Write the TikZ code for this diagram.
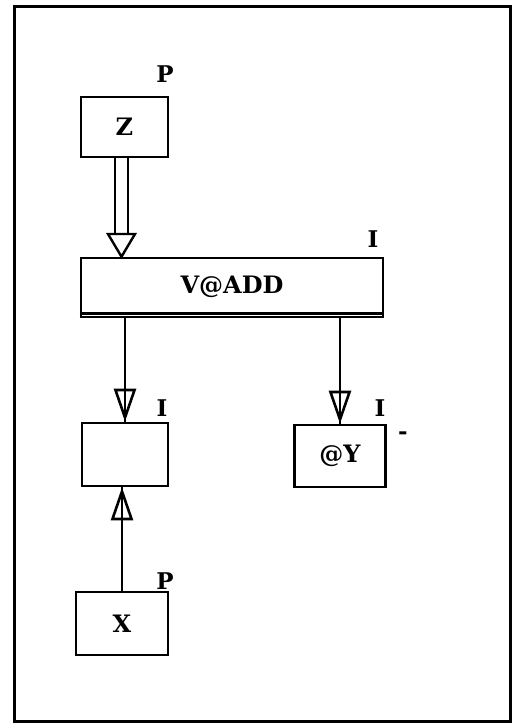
\documentclass[tikz,border=0pt]{standalone}
\usepackage{fontspec}
\setmainfont{DejaVu Serif}
\usetikzlibrary{arrows.meta}
\tikzset{
  box/.style={draw, line width=2.6pt, rectangle, inner sep=0pt,
    font=\bfseries\fontsize{24}{24}\selectfont},
  tag/.style={inner sep=0pt, font=\bfseries\fontsize{23}{23}\selectfont},
  shaft/.style={line width=2.4pt},
  openhead/.style={line width=2.6pt, -{Triangle[open, length=33pt, width=22pt]}},
}
\begin{document}
\begin{tikzpicture}[x=1pt, y=-1pt]
\useasboundingbox (0,0) rectangle (518,724);
\node[draw, line width=3pt, minimum width=496pt, minimum height=715pt, inner sep=0pt] (frame) at (262,363.5) {};

\node[box, minimum width=87pt, minimum height=60pt] (z) at (124.5,127) {Z};
\node[tag] (pz) at (165,74) {P};

\node[box, minimum width=302pt, minimum height=59pt] (vadd) at (232,287.5) {\raisebox{6pt}{V@ADD}};
\node[tag] (ivadd) at (373,239) {I};
\draw[line width=2.6pt] ([yshift=5pt]vadd.south west) -- ([yshift=5pt]vadd.south east);

\node[box, minimum width=86pt, minimum height=63pt] (left) at (125,454.5) {};
\node[tag] (ileft) at (162,408) {I};

\node[box, minimum width=91pt, minimum height=62pt] (aty) at (340,456) {@Y};
\node[tag] (iaty) at (380,408) {I};
\node[tag] (dash) at (403,436) {-};

\node[box, minimum width=92pt, minimum height=63pt] (x) at (122,623.5) {X};
\node[tag] (px) at (165,581) {P};

% double-shaft arrow from Z to V@ADD
\coordinate (zs) at (121.5,157);
\coordinate (zt) at (zs |- vadd.north);
\coordinate (zb) at (121.5,234);
\draw[shaft] ([xshift=-6.5pt]zs) -- ([xshift=-6.5pt]zb);
\draw[shaft] ([xshift=6.5pt]zs) -- ([xshift=6.5pt]zb);
\draw[line width=2.4pt, line join=miter] ([xshift=-13.5pt]zb) -- (zt) -- ([xshift=13.5pt]zb) -- cycle;

% V@ADD to left box
\draw[shaft] (left.north |- vadd.south) -- (left.north);
\draw[openhead] (left.north |- vadd.south) -- (left.north);

% V@ADD to @Y
\draw[shaft] (aty.north |- vadd.south) -- (aty.north);
\draw[openhead] (aty.north |- vadd.south) -- (aty.north);

% X to left box
\draw[shaft] (x.north) -- (x.north |- left.south);
\draw[openhead] (x.north) -- (x.north |- left.south);
\end{tikzpicture}
\end{document}
